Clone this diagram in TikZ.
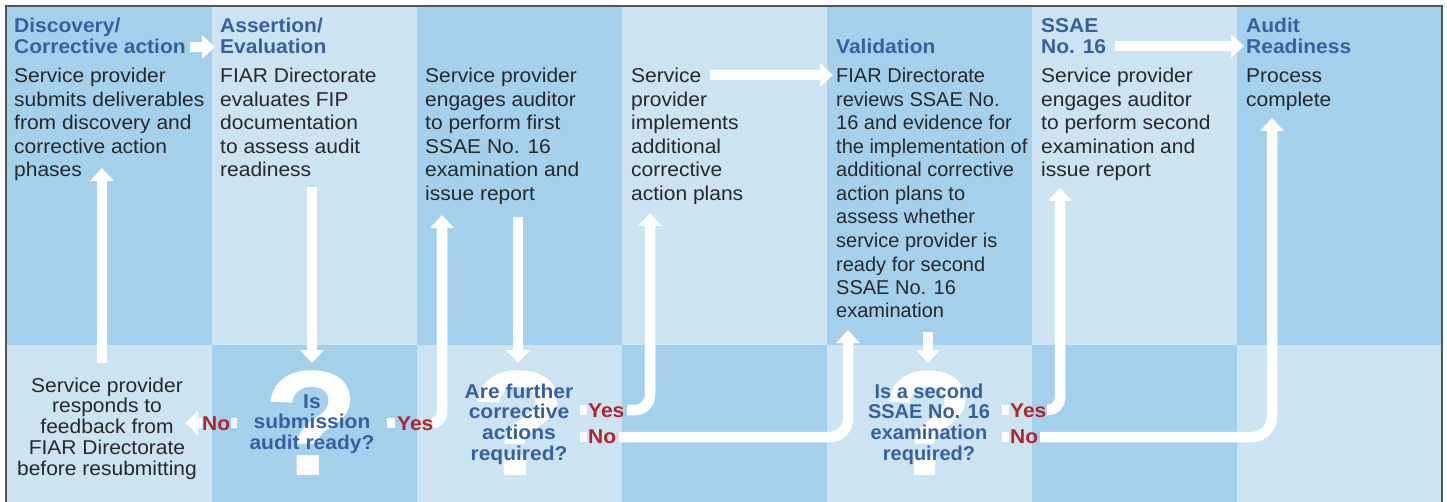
\documentclass[tikz,border=0pt]{standalone}
\usepackage{fontspec}
\setmainfont{Liberation Sans}[FakeStretch=1.05]
\newfontfamily\plainsans{Liberation Sans}
\usetikzlibrary{arrows.meta}
\definecolor{darkcol}{RGB}{165,208,236}
\definecolor{lightcol}{RGB}{204,227,242}
\definecolor{headblue}{RGB}{55,96,160}
\definecolor{labred}{RGB}{176,36,46}
\definecolor{bodygray}{RGB}{40,40,40}
\definecolor{framegray}{RGB}{85,85,85}
\tikzset{
  headtxt/.style={anchor=base west, align=left, inner sep=0pt, font=\bfseries\fontsize{20}{20.5}\selectfont, text=headblue},
  bodytxt/.style={anchor=base west, align=left, inner sep=0pt, font=\fontsize{20}{23.5}\selectfont, text=bodygray},
  resptxt/.style={anchor=base, align=center, inner sep=0pt, font=\fontsize{20}{20.8}\selectfont, text=bodygray},
  qtxt/.style={anchor=base, align=center, inner sep=0pt, font=\bfseries\fontsize{20}{20.8}\selectfont, text=headblue},
  qmark/.style={anchor=base, inner sep=0pt, font=\bfseries\fontsize{150}{150}\selectfont, text=white},
  anstxt/.style={anchor=base west, inner sep=0pt, font=\bfseries\fontsize{20}{20}\selectfont, text=labred},
  wline/.style={draw=white, line width=10.5pt},
  warrow/.style={draw=white, line width=10.5pt, -{Triangle[width=23pt,length=13pt]}},
}
\begin{document}
\begin{tikzpicture}[x=1pt,y=-1pt]
\useasboundingbox (0,0) rectangle (1447,502);
\fill[white] (0,0) rectangle (1447,502);
% checkerboard cells
\foreach \i in {0,...,6} {
  \pgfmathsetmacro\xa{6.5+205.07*\i}
  \pgfmathsetmacro\xb{6.5+205.07*(\i+1)}
  \pgfmathtruncatemacro\odd{mod(\i,2)}
  \ifnum\odd=0
    \fill[darkcol] (\xa,6) rectangle (\xb,344.5);
    \fill[lightcol] (\xa,344.5) rectangle (\xb,502);
  \else
    \fill[lightcol] (\xa,6) rectangle (\xb,344.5);
    \fill[darkcol] (\xa,344.5) rectangle (\xb,502);
  \fi
}
\draw[framegray, line width=1.5pt] (6,503) -- (6,6) -- (1442,6) -- (1442,503);

% big question marks
\node[qmark] (qm1) at (312,475) {?};
\node[qmark] (qm2) at (519,475) {?};
\node[qmark, font=\plainsans\bfseries\fontsize{150}{150}\selectfont] (qm3) at (928,475) {?};

% connector end points
\coordinate (a1s) at (190,47);   \coordinate (a1e) at (215,47);
\coordinate (bs) at (102,363);   \coordinate (be) at (102,168);
\coordinate (cs) at (312,187);   \coordinate (ce) at (312,363);
\coordinate (d0) at (237,423);   \coordinate (d1) at (231,423);
\coordinate (d2) at (202,423);   \coordinate (d3) at (185,423);
\coordinate (e0) at (387,423);   \coordinate (e1) at (395,423);
\coordinate (e2) at (432,423);   \coordinate (e3) at (442,215);
\coordinate (fs) at (518,217);   \coordinate (fe) at (518,363);
\coordinate (g0) at (580,410);   \coordinate (g1) at (587,410);
\coordinate (g2) at (627,410);   \coordinate (g3) at (650,213);
\coordinate (h0) at (580,437);   \coordinate (h1c) at (587,437);
\coordinate (h2c) at (619,437);  \coordinate (h3) at (848,330);
\coordinate (is) at (710,75);    \coordinate (ie) at (833,75);
\coordinate (js) at (928,332);   \coordinate (je) at (928,363);
\coordinate (k0) at (1002,410);  \coordinate (k1) at (1009,410);
\coordinate (k2) at (1047,410);  \coordinate (k3) at (1060,188);
\coordinate (l0) at (1002,437);  \coordinate (l1) at (1009,437);
\coordinate (l2) at (1040,437);  \coordinate (l3) at (1272,118);
\coordinate (ms) at (1115,46);   \coordinate (me) at (1244,46);

% connectors
\draw[warrow] (a1s) -- (a1e);
\draw[warrow] (bs) -- (be);
\draw[warrow] (cs) -- (ce);
\draw[wline] (d0) -- (d1);
\draw[warrow] (d2) -- (d3);
\draw[wline] (e0) -- (e1);
\draw[warrow, rounded corners=10pt] (e2) -| (e3);
\draw[warrow] (fs) -- (fe);
\draw[wline] (g0) -- (g1);
\draw[warrow, rounded corners=15pt] (g2) -| (g3);
\draw[wline] (h0) -- (h1c);
\draw[warrow, rounded corners=18pt] (h2c) -| (h3);
\draw[warrow] (is) -- (ie);
\draw[warrow] (js) -- (je);
\draw[wline] (k0) -- (k1);
\draw[warrow, rounded corners=12pt] (k2) -| (k3);
\draw[wline] (l0) -- (l1);
\draw[warrow, rounded corners=20pt] (l2) -| (l3);
\draw[warrow] (ms) -- (me);

% headings (anchor = baseline of last line)
\node[headtxt] (hd1) at (14,53.5) {Discovery/\\Corrective action};
\node[headtxt] (hd2) at (220,53.5) {Assertion/\\Evaluation};
\node[headtxt] (hd5) at (836,53.5) {Validation};
\node[headtxt] (hd6) at (1041,53.5) {SSAE\\No. 16};
\node[headtxt] (hd7) at (1246,53.5) {Audit\\Readiness};

% body texts (anchor = baseline of last line; first baseline at 83)
\node[bodytxt] (b1) at (14,177) {Service provider\\submits deliverables\\from discovery and\\corrective action\\phases};
\node[bodytxt] (b2) at (220,177) {FIAR Directorate\\evaluates FIP\\documentation\\to assess audit\\readiness};
\node[bodytxt] (b3) at (425,200.5) {Service provider\\engages auditor\\to perform first\\SSAE No. 16\\examination and\\issue report};
\node[bodytxt] (b4) at (631,200.5) {Service\\provider\\implements\\additional\\corrective\\action plans};
\node[bodytxt, font=\plainsans\fontsize{20}{23.5}\selectfont] (b5) at (836,318) {FIAR Directorate\\reviews SSAE No.\\16 and evidence for\\the implementation of\\additional corrective\\action plans to\\assess whether\\service provider is\\ready for second\\SSAE No. 16\\examination};
\node[bodytxt] (b6) at (1041,177) {Service provider\\engages auditor\\to perform second\\examination and\\issue report};
\node[bodytxt] (b7) at (1246,106.5) {Process\\complete};

% bottom texts
\node[resptxt] (resp) at (107,475.2) {Service provider\\responds to\\feedback from\\FIAR Directorate\\before resubmitting};
\node[qtxt] (q1) at (312,449.6) {Is\\submission\\audit ready?};
\node[qtxt] (q2) at (519,460.4) {Are further\\corrective\\actions\\required?};
\node[qtxt, font=\plainsans\bfseries\fontsize{20}{20.8}\selectfont] (q3) at (929,460.4) {Is a second\\SSAE No. 16\\examination\\required?};

% answer labels
\node[anstxt] (no1) at (202,430) {No};
\node[anstxt] (yes1) at (397,430) {Yes};
\node[anstxt] (yes2) at (588,417) {Yes};
\node[anstxt] (no2) at (588,443) {No};
\node[anstxt] (yes3) at (1010,417) {Yes};
\node[anstxt] (no3) at (1010,443) {No};
\end{tikzpicture}
\end{document}
